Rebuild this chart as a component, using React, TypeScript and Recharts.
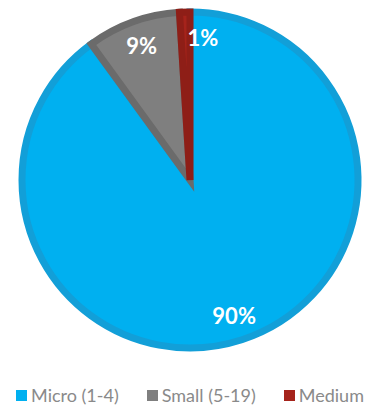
import { PieChart, Pie, Cell, Legend } from "recharts";

const categories = ["Micro (1-4)", "Small (5-19)", "Medium"];
const shares = [90, 9, 1];
const fills = ["#00B0F0", "#7F7F7F", "#A5231B"];
const borders = ["#129FD8", "#6B6B6B", "#8E1E17"];

const data = categories.map((name, i) => ({ name, value: shares[i] }));

const RAD = Math.PI / 180;

function renderLabel(props: any) {
  const { cx, cy, midAngle, outerRadius, percent, value } = props;
  const r = outerRadius * 0.85;
  let x = cx + r * Math.cos(-midAngle * RAD);
  const y = cy + r * Math.sin(-midAngle * RAD);
  const tiny = percent < 0.02;
  if (tiny) x += 2;
  return (
    <text
      x={x}
      y={y}
      fill="#fff"
      fontSize={22}
      fontWeight="bold"
      fontFamily="Lato, sans-serif"
      textAnchor={tiny ? "start" : "middle"}
      dominantBaseline="central"
    >
      {value}%
    </text>
  );
}

function renderLegend() {
  return (
    <div
      style={{
        display: "flex",
        justifyContent: "center",
        gap: 28,
        fontFamily: "Lato, sans-serif",
        fontSize: 18,
        color: "#8A8A8A",
      }}
    >
      {categories.map((c, i) => (
        <span key={c} style={{ display: "flex", alignItems: "center" }}>
          <span
            style={{
              width: 11,
              height: 11,
              background: fills[i],
              marginRight: 4,
              display: "inline-block",
            }}
          />
          {c}
        </span>
      ))}
    </div>
  );
}

export default function App() {
  return (
    <div style={{ position: "absolute", left: 0, top: 0, background: "#fff" }}>
      <PieChart
        width={380}
        height={412}
        margin={{ top: 0, right: 0, bottom: 0, left: 0 }}
      >
        <Pie
          data={data}
          dataKey="value"
          nameKey="name"
          cx={190}
          cy={180}
          outerRadius={168}
          startAngle={90}
          endAngle={-270}
          strokeWidth={7}
          label={renderLabel}
          labelLine={false}
          isAnimationActive={false}
        >
          {data.map((d, i) => (
            <Cell key={d.name} fill={fills[i]} stroke={borders[i]} />
          ))}
        </Pie>
        <Legend
          verticalAlign="bottom"
          content={renderLegend}
          wrapperStyle={{ bottom: 6 }}
        />
      </PieChart>
    </div>
  );
}
